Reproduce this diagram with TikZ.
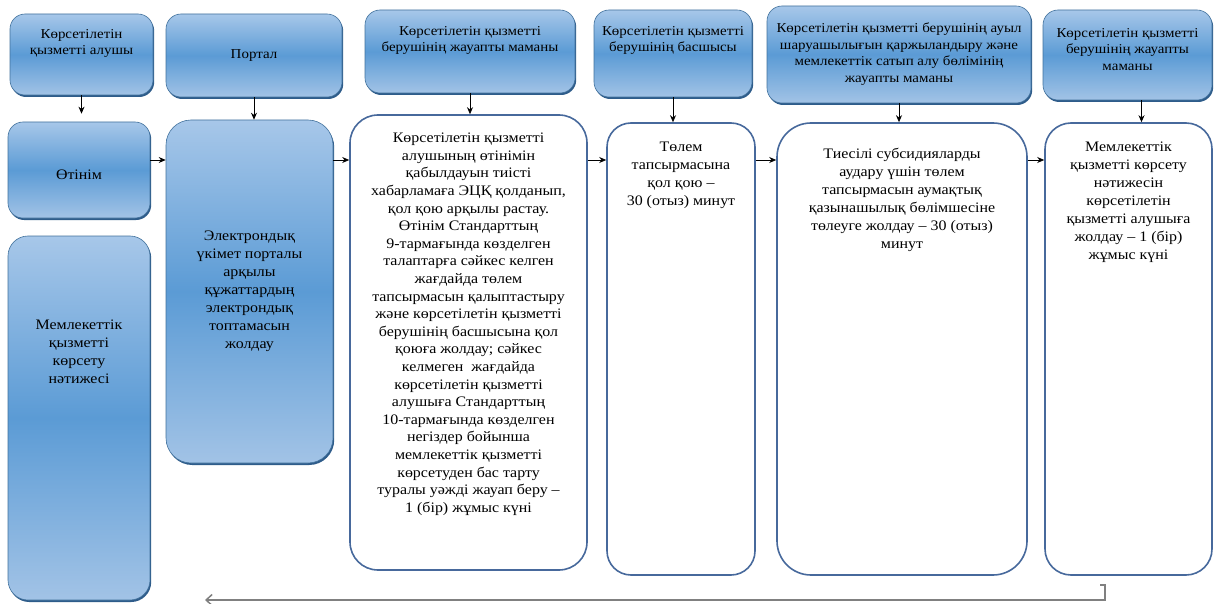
\documentclass[tikz,border=0pt]{standalone}
\usepackage{fontspec}
\setmainfont{Liberation Serif}[FakeStretch=1.1]
\usetikzlibrary{arrows.meta,shadows}
\definecolor{bluetop}{HTML}{A7C7E9}
\definecolor{bluemid}{HTML}{5B9BD5}
\definecolor{bluebot}{HTML}{A2C3E6}
\definecolor{blueline}{HTML}{41719C}
\definecolor{bluedark}{HTML}{2E5C8A}
\definecolor{boxline}{HTML}{47699C}
\definecolor{backline}{HTML}{808080}
\newcommand{\boxtxt}[4]{\parbox[c][#2][t]{#1}{\centering\vspace*{#3}#4\par}}
\newcommand{\hfont}{\fontsize{13.6}{16.5}\selectfont}

\begin{document}
\begin{tikzpicture}[x=1pt,y=-1pt,font=\fontsize{14.5}{18}\selectfont]
        \useasboundingbox (0,0) rectangle (1214,604);

        \begin{scope}[every node/.style={draw=blueline, line width=0.6pt, rounded corners=15pt,
                        top color=bluetop, bottom color=bluebot, middle color=bluemid,
                        drop shadow={shadow xshift=1.2pt, shadow yshift=-2pt, fill=bluedark, opacity=1},
                        inner sep=0pt, align=center}]
            \node[minimum width=143pt, minimum height=81pt, font=\hfont] (h1) at (81.5,54.5)
                {\boxtxt{143pt}{81pt}{15pt}{Көрсетілетін\\қызметті алушы}};
            \node[minimum width=176pt, minimum height=83pt, font=\hfont] (h2) at (254,55.5) {Портал};
            \node[minimum width=210pt, minimum height=83pt, font=\hfont] (h3) at (470,51.5)
                {\boxtxt{210pt}{83pt}{16pt}{Көрсетілетін қызметті\\берушінің жауапты маманы}};
            \node[minimum width=158pt, minimum height=87pt, font=\hfont] (h4) at (673,53.5)
                {\boxtxt{158pt}{87pt}{16pt}{Көрсетілетін қызметті\\берушінің басшысы}};
            \node[minimum width=264pt, minimum height=97pt, font=\hfont] (h5) at (899,54.5)
                {\boxtxt{264pt}{97pt}{17pt}{Көрсетілетін қызметті берушінің ауыл\\шаруашылығын қаржыландыру және\\мемлекеттік сатып алу бөлімінің\\жауапты маманы}};
            \node[minimum width=169pt, minimum height=90pt, font=\hfont] (h6) at (1127.5,55)
                {\boxtxt{169pt}{90pt}{18pt}{Көрсетілетін қызметті\\берушінің жауапты\\маманы}};

            \node[minimum width=142pt, minimum height=96pt] (a1) at (79,170)
                {\boxtxt{142pt}{96pt}{48pt}{Өтінім}};
            \node[minimum width=142pt, minimum height=364pt, rounded corners=20pt] (a2) at (79,418)
                {\boxtxt{134pt}{364pt}{84pt}{Мемлекеттік\\қызметті\\көрсету\\нәтижесі}};
            \node[minimum width=167pt, minimum height=343pt, rounded corners=25pt] (b2) at (249.5,291.5)
                {Электрондық\\үкімет порталы\\арқылы\\құжаттардың\\электрондық\\топтамасын\\жолдау};
        \end{scope}

        \begin{scope}[every node/.style={draw=boxline, line width=1.6pt, fill=white,
                        rounded corners=28pt, inner sep=0pt}]
            \node[minimum width=237pt, minimum height=455pt] (c2) at (468.5,342.5)
                {\boxtxt{231pt}{455pt}{18pt}{\fontsize{14.5}{17.6}\selectfont
                Көрсетілетін қызметті\\алушының өтінімін\\қабылдауын тиісті\\хабарламаға ЭЦҚ қолданып,\\қол қою арқылы растау.\\Өтінім Стандарттың\\9-тармағында көзделген\\талаптарға сәйкес келген\\жағдайда төлем\\тапсырмасын қалыптастыру\\және көрсетілетін қызметті\\берушінің басшысына қол\\қоюға жолдау; сәйкес\\келмеген\ \ жағдайда\\көрсетілетін қызметті\\алушыға Стандарттың\\10-тармағында көзделген\\негіздер бойынша\\мемлекеттік қызметті\\көрсетуден бас тарту\\туралы уәжді жауап беру –\\1 (бір) жұмыс күні}};
            \node[minimum width=148pt, minimum height=452pt, rounded corners=24pt] (d2) at (681,349)
                {\boxtxt{142pt}{452pt}{19pt}{Төлем\\тапсырмасына\\қол қою –\\30 (отыз) минут}};
            \node[minimum width=250pt, minimum height=452pt, rounded corners=34pt] (e2) at (902,349)
                {\boxtxt{244pt}{452pt}{25pt}{Тиесілі субсидияларды\\аудару үшін төлем\\тапсырмасын аумақтық\\қазынашылық бөлімшесіне\\төлеуге жолдау – 30 (отыз)\\минут}};
            \node[minimum width=167pt, minimum height=452pt, rounded corners=26pt] (f2) at (1128.5,349)
                {\boxtxt{161pt}{452pt}{19pt}{Мемлекеттік\\қызметті көрсету\\нәтижесін\\көрсетілетін\\қызметті алушыға\\жолдау – 1 (бір)\\жұмыс күні}};
        \end{scope}

        \coordinate (row) at (0,160);
        \coordinate (ret) at (1100,585);
        \coordinate (back) at (205,600);

        \begin{scope}[>={Stealth[length=7pt,width=6pt]}, line width=0.8pt]
            \draw[->, shorten >=8pt] (h1.south) -- (h1.south |- a1.north);
            \draw[->] (h2.south) -- (h2.south |- b2.north);
            \draw[->] (h3.south) -- (h3.south |- c2.north);
            \draw[->] (h4.south) -- (h4.south |- d2.north);
            \draw[->] (h5.south) -- (h5.south |- e2.north);
            \draw[->] ([xshift=14pt]h6.south) -- ([xshift=14pt]h6.south |- f2.north);

            \draw[->] (a1.east |- row) -- (b2.west |- row);
            \draw[->] (b2.east |- row) -- (c2.west |- row);
            \draw[->] (c2.east |- row) -- (d2.west |- row);
            \draw[->] (d2.east |- row) -- (e2.west |- row);
            \draw[->] (e2.east |- row) -- (f2.west |- row);

            \draw[backline, line width=1.5pt, -{Straight Barb[length=6pt,width=11pt]}]
                (ret) -- ++(5,0) |- (back);
        \end{scope}
\end{tikzpicture}
\end{document}
